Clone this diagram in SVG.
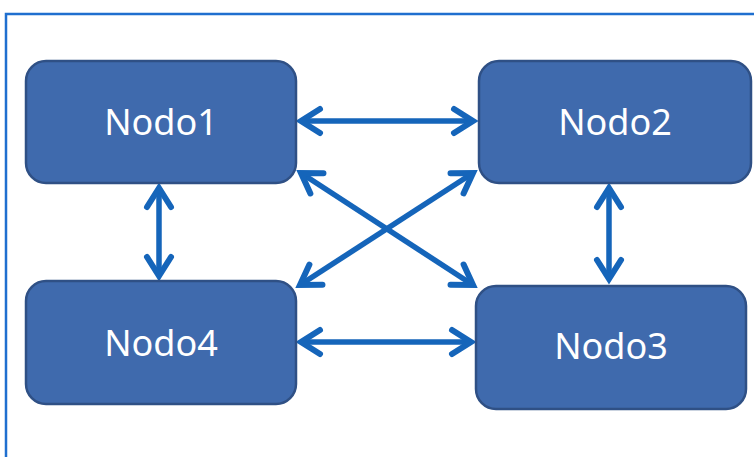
<svg xmlns="http://www.w3.org/2000/svg" width="754" height="457" viewBox="0 0 754 457">
  <style>
    .node rect { fill: #3f6aad; stroke: #2f5085; stroke-width: 2.5; }
    .node text { fill: #ffffff; font-family: "Noto Sans", "Open Sans", sans-serif; font-size: 36px; text-anchor: middle; }
    .edge { stroke: #1565ba; stroke-width: 5.5; fill: none; marker-start: url(#arr); marker-end: url(#arr); }
  </style>
  <defs>
    <marker id="arr" markerUnits="userSpaceOnUse" viewBox="-30 -20 40 40" refX="0" refY="0" markerWidth="40" markerHeight="40" orient="auto-start-reverse">
      <path d="M -19,-12 L 0,0 L -19,12" fill="none" stroke="#1565ba" stroke-width="6" stroke-linecap="round" stroke-linejoin="miter"/>
    </marker>
  </defs>
  <rect x="6" y="14" width="800" height="500" fill="none" stroke="#1f6fcf" stroke-width="2.5"/>
  <g id="connectors">
    <line class="edge" x1="301" y1="121" x2="473" y2="121"/>
    <line class="edge" x1="301" y1="342" x2="471" y2="342"/>
    <line class="edge" x1="159" y1="188" x2="159" y2="276"/>
    <line class="edge" x1="609" y1="188" x2="609" y2="279"/>
    <line class="edge" x1="301" y1="173" x2="473" y2="285"/>
    <line class="edge" x1="300" y1="285" x2="473" y2="173"/>
  </g>
  <g id="nodo1" class="node">
    <rect x="26" y="61" width="270" height="122" rx="20"/>
    <text x="161" y="135">Nodo1</text>
  </g>
  <g id="nodo2" class="node">
    <rect x="479" y="61" width="272" height="122" rx="20"/>
    <text x="615" y="135">Nodo2</text>
  </g>
  <g id="nodo4" class="node">
    <rect x="26" y="281" width="270" height="123" rx="20"/>
    <text x="161" y="356">Nodo4</text>
  </g>
  <g id="nodo3" class="node">
    <rect x="476" y="286" width="270" height="123" rx="20"/>
    <text x="611" y="359">Nodo3</text>
  </g>
</svg>
